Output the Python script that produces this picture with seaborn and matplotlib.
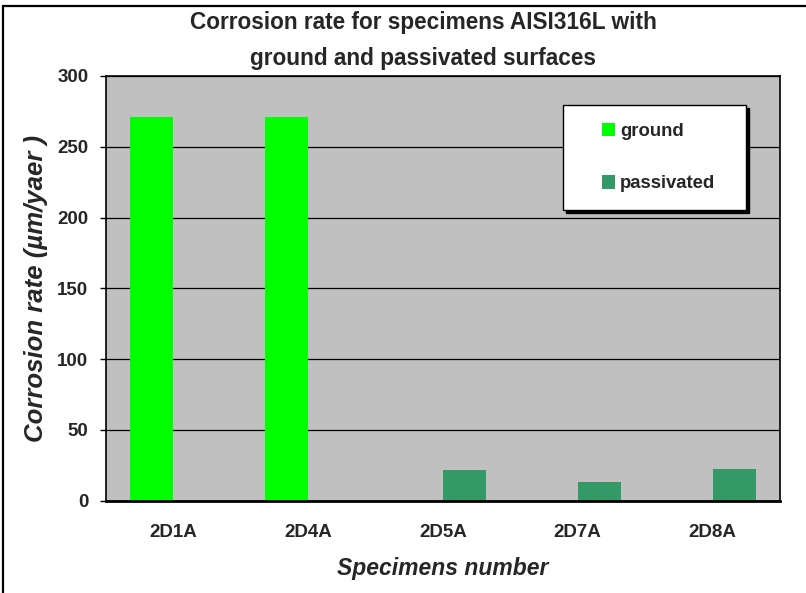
import matplotlib.pyplot as plt
import matplotlib.patches as mpatches
from matplotlib.legend_handler import HandlerPatch
import numpy as np
import pandas as pd
import seaborn as sns

# Chart data
specimens = ["2D1A", "2D4A", "2D5A", "2D7A", "2D8A"]
surfaces = ["ground", "passivated"]
ground_rate = [271, 271, np.nan, np.nan, np.nan]
passivated_rate = [np.nan, np.nan, 21.7, 13.2, 22.6]
yticks = [0, 50, 100, 150, 200, 250, 300]

colors = {"ground": "#00FF00", "passivated": "#339966"}

sns.set_theme(style="white")
plt.rcParams["font.family"] = ["Liberation Sans", "DejaVu Sans"]
plt.rcParams["font.weight"] = "bold"
plt.rcParams["axes.labelweight"] = "bold"

df = pd.DataFrame(
    {
        "specimen": specimens * 2,
        "surface": ["ground"] * len(specimens) + ["passivated"] * len(specimens),
        "rate": ground_rate + passivated_rate,
    }
).dropna()

W, H = 806, 593
fig = plt.figure(figsize=(W / 100, H / 100), dpi=100)
ax = fig.add_axes([105.7 / W, 1 - 500.7 / H, (780 - 105.7) / W, (500.7 - 76) / H])
ax.set_facecolor("#C0C0C0")

sns.barplot(
    data=df,
    x="specimen",
    y="rate",
    hue="surface",
    order=specimens,
    hue_order=surfaces,
    palette=colors,
    dodge=True,
    width=0.64,
    saturation=1,
    errorbar=None,
    linewidth=0,
    ax=ax,
)

ax.set_ylim(0, 300)
ax.set_yticks(yticks)
ax.set_axisbelow(True)
ax.yaxis.grid(True, color="black", linewidth=0.9)
ax.xaxis.grid(False)

for side in ["left", "top", "right"]:
    ax.spines[side].set_color("black")
    ax.spines[side].set_linewidth(1.2)
ax.spines["bottom"].set_color("black")
ax.spines["bottom"].set_linewidth(2)

ax.tick_params(axis="y", direction="out", length=4.5, width=1, color="black",
               pad=8, labelsize=13.5, left=True)
ax.tick_params(axis="x", length=0, pad=17, labelsize=13.5)

ax.set_ylabel("Corrosion rate (µm/yaer )", fontsize=18.5, fontstyle="italic")
ax.yaxis.set_label_coords(-0.085, 0.5)
ax.set_xlabel("Specimens number", fontsize=16.5, fontstyle="italic")
ax.xaxis.set_label_coords(0.5, -0.132)

fig.text(0.525, 1 - 11 / H,
         "Corrosion rate for specimens AISI316L with\nground and passivated surfaces",
         ha="center", va="top", fontsize=16.3, fontweight="bold", linespacing=1.75)


# legend: small square drawn at the right end of the handle slot
def square(legend, orig_handle, xdescent, ydescent, width, height, fontsize):
    return mpatches.Rectangle((-xdescent + width - height, -ydescent), height, height)


handles, labels = ax.get_legend_handles_labels()
ax.legend(
    handles, labels,
    handler_map={mpatches.Rectangle: HandlerPatch(patch_func=square)},
    loc="upper left",
    bbox_to_anchor=(0.678, 0.687, 0.2716, 0.2447),
    mode="expand",
    borderaxespad=0,
    fontsize=13.3,
    handlelength=1.88,
    handleheight=0.76,
    handletextpad=0.25,
    borderpad=0.95,
    labelspacing=1.9,
    frameon=True,
    fancybox=False,
    framealpha=1,
    facecolor="white",
    edgecolor="black",
    shadow={"color": "black", "alpha": 1},
)
ax.get_legend().get_frame().set_linewidth(1)

# outer chart frame
fig.add_artist(mpatches.Rectangle((3 / W, -0.05), 1.1, 1 - 6 / H + 0.05,
                                  transform=fig.transFigure, fill=False,
                                  edgecolor="black", linewidth=1.6))

fig.savefig("out.png", dpi=100, facecolor="white")
